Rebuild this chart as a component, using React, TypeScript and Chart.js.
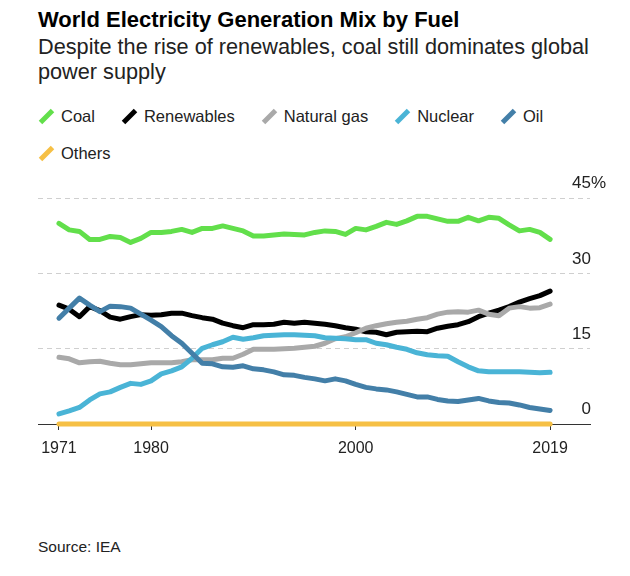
import React, { useEffect, useRef } from "react";
import { Chart, registerables } from "chart.js";

Chart.register(...registerables);

const years = [
  1971, 1972, 1973, 1974, 1975, 1976, 1977, 1978, 1979, 1980,
  1981, 1982, 1983, 1984, 1985, 1986, 1987, 1988, 1989, 1990,
  1991, 1992, 1993, 1994, 1995, 1996, 1997, 1998, 1999, 2000,
  2001, 2002, 2003, 2004, 2005, 2006, 2007, 2008, 2009, 2010,
  2011, 2012, 2013, 2014, 2015, 2016, 2017, 2018, 2019,
];

const coal = [
  40.0, 38.7, 38.4, 36.8, 36.8, 37.4, 37.2, 36.2, 37.0, 38.2,
  38.2, 38.4, 38.8, 38.2, 39.0, 39.0, 39.5, 39.0, 38.5, 37.5,
  37.5, 37.7, 37.9, 37.8, 37.7, 38.2, 38.5, 38.4, 37.8, 39.0,
  38.7, 39.4, 40.2, 39.8, 40.5, 41.4, 41.4, 40.9, 40.4, 40.4,
  41.2, 40.5, 41.2, 41.0, 39.7, 38.5, 38.8, 38.2, 36.8,
];

const renewables = [
  23.7, 22.9, 21.4, 23.4, 22.6, 21.3, 20.9, 21.4, 21.8, 21.7,
  21.8, 22.1, 22.1, 21.6, 21.2, 20.9, 20.1, 19.6, 19.2, 19.8,
  19.8, 19.9, 20.3, 20.1, 20.3, 20.1, 19.9, 19.6, 19.2, 18.9,
  18.4, 18.3, 17.8, 18.3, 18.4, 18.5, 18.4, 19.1, 19.5, 19.8,
  20.4, 21.4, 22.1, 22.7, 23.4, 24.3, 25.0, 25.6, 26.5,
];

const naturalGas = [
  13.3, 13.0, 12.2, 12.4, 12.5, 12.1, 11.8, 11.8, 12.0, 12.2,
  12.2, 12.2, 12.4, 12.8, 12.8, 12.8, 13.1, 13.1, 13.9, 14.9,
  14.9, 14.9, 15.0, 15.1, 15.3, 15.5, 16.1, 17.0, 17.4, 18.2,
  19.1, 19.6, 20.0, 20.3, 20.5, 20.9, 21.2, 21.9, 22.3, 22.4,
  22.3, 22.7, 21.9, 21.6, 23.1, 23.4, 23.1, 23.2, 23.9,
];

const nuclear = [
  2.0, 2.6, 3.3, 4.8, 6.0, 6.4, 7.3, 8.1, 7.9, 8.6,
  10.0, 10.6, 11.4, 13.1, 15.1, 15.8, 16.4, 17.3, 16.9, 17.2,
  17.6, 17.7, 17.8, 17.8, 17.7, 17.6, 17.2, 17.1, 17.0, 16.8,
  16.8, 16.1, 15.8, 15.3, 14.9, 14.2, 13.8, 13.6, 13.5, 12.4,
  11.4, 10.6, 10.4, 10.4, 10.4, 10.4, 10.3, 10.2, 10.3,
];

const oil = [
  21.1, 23.1, 25.1, 23.7, 22.4, 23.5, 23.4, 23.1, 21.9, 20.7,
  19.4, 17.6, 16.1, 14.1, 12.1, 12.0, 11.4, 11.3, 11.6, 11.0,
  10.8, 10.4, 9.8, 9.7, 9.3, 9.0, 8.6, 9.0, 8.6, 7.9,
  7.3, 7.0, 6.8, 6.4, 5.9, 5.4, 5.4, 4.9, 4.6, 4.5,
  4.8, 5.1, 4.6, 4.3, 4.2, 3.8, 3.3, 3.0, 2.7,
];

const others = [
  0, 0, 0, 0, 0, 0, 0, 0, 0, 0,
  0, 0, 0, 0, 0, 0, 0, 0, 0, 0,
  0, 0, 0, 0, 0, 0, 0, 0, 0, 0,
  0, 0, 0, 0, 0, 0, 0, 0, 0, 0,
  0, 0, 0, 0, 0, 0, 0, 0, 0,
];

const seriesNames = ["Coal", "Renewables", "Natural gas", "Nuclear", "Oil", "Others"];
const seriesValues = [coal, renewables, naturalGas, nuclear, oil, others];
const seriesColors = ["#62df4b", "#000000", "#a9a9a9", "#4ab4d6", "#437fa8", "#f6c045"];

const xTickYears = [1971, 1980, 2000, 2019];
const yTicks = [0, 15, 30, 45];

const FONT = '"Liberation Sans", Arial, Helvetica, sans-serif';

const yLabelPlugin = {
  id: "yLabels",
  afterDraw(chart: any) {
    const { ctx, chartArea, scales } = chart;
    const y = scales.y;
    ctx.save();
    ctx.font = `17px ${FONT}`;
    ctx.fillStyle = "#222";
    ctx.textBaseline = "alphabetic";
    const xr = chartArea.right + 1;
    yTicks.forEach((v) => {
      const py = y.getPixelForValue(v) - 10;
      ctx.textAlign = "right";
      ctx.fillText(String(v), xr, py);
      if (v === yTicks[yTicks.length - 1]) {
        ctx.textAlign = "left";
        ctx.fillText("%", xr, py);
      }
    });
    ctx.restore();
  },
};

function LegendMarker({ color }: { color: string }) {
  return (
    <svg width="17" height="17" viewBox="0 0 17 17" style={{ display: "block" }}>
      <line x1="2.5" y1="14.5" x2="14.5" y2="2.5" stroke={color} strokeWidth="5" strokeLinecap="butt" />
    </svg>
  );
}

export default function App() {
  const canvasRef = useRef<HTMLCanvasElement | null>(null);

  useEffect(() => {
    const canvas = canvasRef.current;
    if (!canvas) return;
    const datasets = seriesNames
      .map((name, i) => ({
        label: name,
        data: years.map((yr, j) => ({ x: yr, y: seriesValues[i][j] })),
        borderColor: seriesColors[i],
        backgroundColor: seriesColors[i],
        borderWidth: 5,
        pointRadius: 0,
        tension: 0,
        borderJoinStyle: "round" as const,
        borderCapStyle: "round" as const,
        clip: false as any,
      }))
      .reverse();

    const chart = new Chart(canvas, {
      type: "line",
      data: { datasets },
      plugins: [yLabelPlugin],
      options: {
        animation: false,
        responsive: false,
        devicePixelRatio: 1,
        layout: { padding: { left: 38, right: 40, top: 28.3, bottom: 0 } },
        plugins: { legend: { display: false }, tooltip: { enabled: false } },
        scales: {
          x: {
            type: "linear",
            min: 1968.95,
            max: 2022.9,
            afterBuildTicks: (s: any) => {
              s.ticks = xTickYears.map((v) => ({ value: v }));
            },
            afterFit: (s: any) => {
              s.height = 46;
            },
            ticks: {
              autoSkip: false,
              maxRotation: 0,
              padding: 9,
              color: "#222",
              font: { family: FONT, size: 16 },
              callback: (v: any) => String(v),
            },
            grid: {
              drawOnChartArea: false,
              drawTicks: true,
              tickLength: 6,
              color: "#333",
              lineWidth: 1,
            },
            border: { display: true, color: "#333", width: 1 },
          },
          y: {
            type: "linear",
            position: "right",
            min: 0,
            max: 45,
            afterBuildTicks: (s: any) => {
              s.ticks = yTicks.map((v) => ({ value: v }));
            },
            afterFit: (s: any) => {
              s.width = 0;
            },
            ticks: { display: false },
            grid: {
              drawTicks: false,
              color: (c: any) => (c.tick && c.tick.value === 0 ? "rgba(0,0,0,0)" : "#cfcfcf"),
              lineWidth: 1,
            },
            border: { display: false, dash: [5, 4] },
          },
        },
      },
    });
    return () => chart.destroy();
  }, []);

  return (
    <div
      style={{
        position: "absolute",
        left: 0,
        top: 0,
        width: 630,
        height: 576,
        background: "#fff",
        fontFamily: FONT,
        color: "#222",
      }}
    >
      <div
        style={{
          position: "absolute",
          left: 38,
          top: 7,
          fontSize: 22,
          lineHeight: "26px",
          fontWeight: 700,
          color: "#000",
          whiteSpace: "nowrap",
        }}
      >
        World Electricity Generation Mix by Fuel
      </div>
      <div
        style={{
          position: "absolute",
          left: 38,
          top: 35,
          width: 560,
          fontSize: 21.7,
          lineHeight: "24.5px",
          color: "#222",
        }}
      >
        Despite the rise of renewables, coal still dominates global power supply
      </div>
      <div
        style={{
          position: "absolute",
          left: 38,
          top: 107,
          width: 552,
          display: "flex",
          flexWrap: "wrap",
          columnGap: 26,
          rowGap: 18,
          fontSize: 16.5,
          lineHeight: "19px",
          color: "#222",
        }}
      >
        {seriesNames.map((name, i) => (
          <div key={name} style={{ display: "flex", alignItems: "center", gap: 6 }}>
            <LegendMarker color={seriesColors[i]} />
            <span>{name}</span>
          </div>
        ))}
      </div>
      <canvas
        ref={canvasRef}
        width={630}
        height={300}
        style={{ position: "absolute", left: 0, top: 170, width: 630, height: 300 }}
      />
      <div
        style={{
          position: "absolute",
          left: 38,
          top: 537,
          fontSize: 15.5,
          lineHeight: "19px",
          color: "#222",
        }}
      >
        Source: IEA
      </div>
    </div>
  );
}
